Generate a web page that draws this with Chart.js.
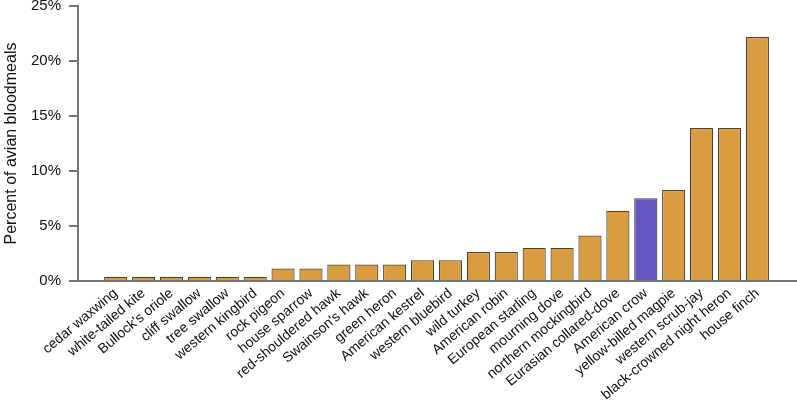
<!DOCTYPE html>
<html>
<head>
<meta charset="utf-8">
<title>avian bloodmeals</title>
<script src="https://cdn.jsdelivr.net/npm/chart.js"></script>
<style>
  html, body { margin: 0; padding: 0; background: #fff; }
  #box { width: 797px; height: 410px; position: relative; }
</style>
</head>
<body>
<div id="box"><canvas id="birdChart"></canvas></div>
<script>
// bird species (x axis)
const birds = ['cedar waxwing', 'white-tailed kite', "Bullock's oriole", 'cliff swallow', 'tree swallow',
  'western kingbird', 'rock pigeon', 'house sparrow', 'red-shouldered hawk', "Swainson's hawk",
  'green heron', 'American kestrel', 'western bluebird', 'wild turkey', 'American robin',
  'European starling', 'mourning dove', 'northern mockingbird', 'Eurasian collared-dove',
  'American crow', 'yellow-billed magpie', 'western scrub-jay', 'black-crowned night heron', 'house finch'];
// percent of avian bloodmeals
const percents = [0.38, 0.38, 0.38, 0.38, 0.38, 0.38, 1.13, 1.13, 1.5, 1.5,
  1.5, 1.88, 1.88, 2.63, 2.63, 3.01, 3.01, 4.14, 6.39, 7.52, 8.27, 13.91, 13.91, 22.18];
const yTicks = [0, 5, 10, 15, 20, 25];
const highlight = 'American crow';

const barColors = birds.map(b => b === highlight ? '#6557c2' : '#d99c41');

Chart.defaults.font.family = '"Liberation Sans", Arial, sans-serif';
Chart.defaults.color = '#111';

new Chart(document.getElementById('birdChart'), {
  type: 'bar',
  data: {
    datasets: [{
      data: percents.map((v, i) => ({ x: i, y: v })),
      backgroundColor: barColors,
      borderColor: '#444',
      borderWidth: 1.2,
      barPercentage: 0.83,
      categoryPercentage: 1
    }]
  },
  options: {
    responsive: true,
    maintainAspectRatio: false,
    animation: false,
    layout: { padding: { top: 6, right: 0, left: 0, bottom: 0 } },
    plugins: { legend: { display: false }, tooltip: { enabled: false } },
    scales: {
      x: {
        type: 'linear',
        offset: false,
        min: -1.35,
        max: 24.42,
        grid: { display: false, drawTicks: false, offset: false },
        border: { color: '#777', width: 2 },
        afterBuildTicks: s => { s.ticks = birds.map((_, i) => ({ value: i })); },
        afterFit: s => {
          s.height = 129;
          s.paddingLeft = 0;
          s.paddingRight = 0;
        },
        ticks: {
          autoSkip: false,
          minRotation: 40,
          maxRotation: 40,
          padding: 4,
          font: { size: 14 },
          color: '#111',
          callback: v => birds[v]
        }
      },
      y: {
        min: 0,
        max: 25,
        afterBuildTicks: s => { s.ticks = yTicks.map(v => ({ value: v })); },
        afterFit: s => {
          s.width = 78;
          s.paddingTop = 0;
          s.paddingBottom = 0;
        },
        grid: { drawOnChartArea: false, drawTicks: true, tickLength: 9, color: '#777', lineWidth: 2 },
        border: { color: '#777', width: 2 },
        ticks: {
          padding: 8,
          font: { size: 15 },
          color: '#111',
          callback: v => v + '%'
        },
        title: {
          display: true,
          text: 'Percent of avian bloodmeals',
          font: { size: 16 },
          color: '#111',
          padding: { top: 2, bottom: 0 }
        }
      }
    }
  }
});
</script>
</body>
</html>
